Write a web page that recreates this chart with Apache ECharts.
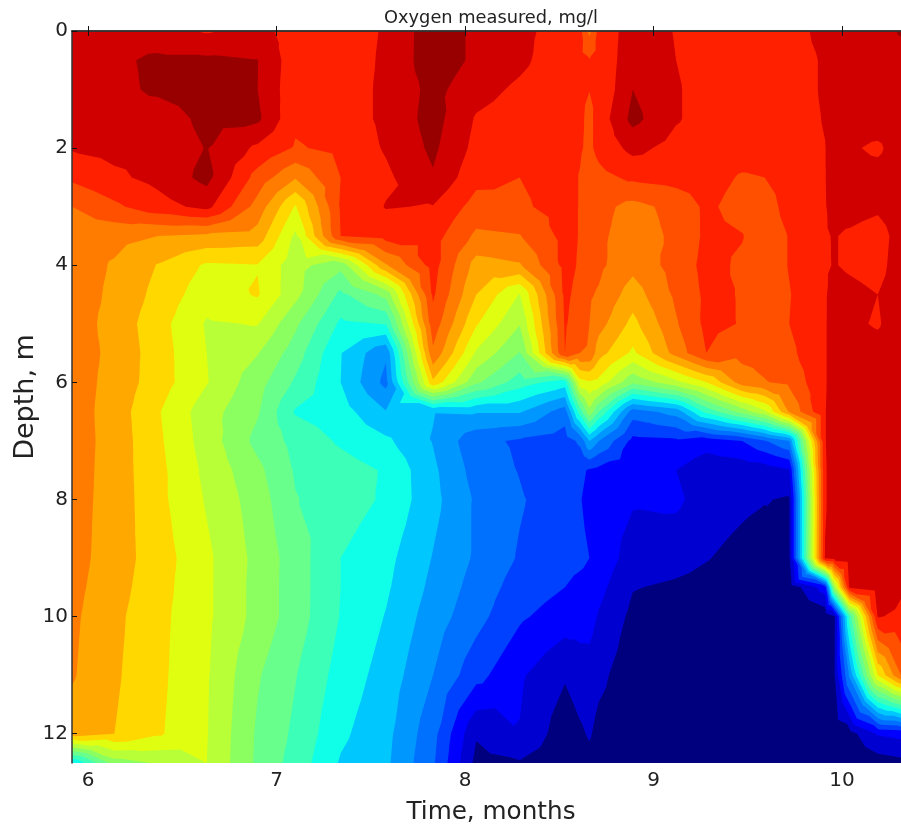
<!DOCTYPE html>
<html><head><meta charset="utf-8">
<style>html,body{margin:0;padding:0;background:#fff}#c{width:901px;height:829px}</style>
<script src="https://cdn.jsdelivr.net/npm/echarts@6/dist/echarts.min.js"></script>
</head><body><div id="c"></div>
<script>
const depths=[0,0.5,1,1.5,2,2.5,3,3.5,4,4.5,5,5.5,6,6.5,7,7.5,8,9,9.5,10,11,12,12.5];
const months=[5.915,6.14,6.37,6.63,6.90,7.10,7.34,7.58,7.83,8.06,8.29,8.53,8.61,8.66,8.71,8.89,9.12,9.28,9.47,9.59,9.72,9.91,9.96,10.04,10.19,10.313];
// contour-level readings per sampling time, one value per depth
const t0=[18.6,18.6,18.6,18.6,18.1,17.2,16.0,15.4,15.5,15.5,15.5,15.5,15.5,15.5,15.5,15.5,15.4,15.4,15.3,15.2,15.1,14.5,6.9];
const t1=[18.6,18.8,18.7,18.6,18.3,17.8,16.8,15.3,14.9,14.8,14.65,14.75,14.65,14.55,14.6,14.55,14.6,14.5,14.4,14.25,14.15,14.0,10.5];
const t2=[18.4,19.2,19.2,18.4,18.3,18.3,17.6,15.0,13.95,13.7,13.4,13.5,13.5,13.1,13.2,13.3,13.3,13.5,13.4,13.3,13.25,13.15,11.1];
const t3=[17.9,19.2,19.5,19.3,19.05,19.3,18.3,14.8,12.85,12.4,11.9,12.0,12.05,11.45,11.55,11.75,11.9,12.2,12.2,12.2,12.1,12.05,12.0];
const t4=[18.4,19.02,19.0,19.2,17.8,16.6,15.6,14.6,12.95,13.1,12.05,11.05,10.4,10.1,9.7,10.25,10.5,10.7,10.65,10.65,10.1,9.85,9.8];
const t5=[17.5,17.4,17.3,17.2,16.9,15.1,12.9,11.8,11.4,11.3,10.2,9.5,8.85,7.9,8.7,8.9,9.05,9.5,9.5,9.5,9.05,8.8,8.6];
const t6=[17.5,17.5,17.5,17.5,17.25,17.0,17.1,17.0,10.3,8.75,7.8,7.05,7.0,7.45,7.85,8.45,8.5,8.0,8.0,7.95,7.6,7.2,6.9];
const t7=[18.1,18.15,18.2,18.2,18.1,17.8,18.05,17.4,14.9,10.3,8.05,5.15,4.7,6.05,7.2,7.9,7.85,7.3,7.15,6.95,6.6,6.3,6.2];
const t8=[19.6,19.6,19.3,19.4,19.2,18.9,17.95,17.4,17.4,17.15,16.6,15.8,13.8,6.05,5.95,6.2,6.3,5.95,5.75,5.5,5.0,4.35,4.15];
const t9=[18.8,18.8,18.4,17.9,17.7,17.3,16.6,15.8,14.6,14.0,13.1,11.85,10.2,6.1,4.3,4.6,4.85,4.85,4.6,4.35,3.35,1.1,0.7];
const t10=[18.3,18.25,17.8,17.5,17.4,17.0,16.85,15.95,14.9,11.95,11.05,9.95,8.5,6.1,3.85,3.95,4.1,3.9,3.55,3.15,2.15,1.95,0.9];
const t11=[17.5,17.3,17.2,17.2,17.3,17.4,17.35,17.3,17.3,17.2,17.1,17.0,7.5,4.5,3.5,3.1,3.4,3.3,3.0,2.5,1.1,0.4,0.4];
const t12=[17.3,17.2,17.1,17.2,17.1,16.95,16.95,16.95,16.9,16.7,16.5,16.0,12.6,8.5,4.2,3.2,3.05,3.2,2.75,2.4,1.5,0.85,0.6];
const t13=[15.8,17.05,17.02,16.75,16.8,16.4,16.3,16.2,16.3,16.1,16.0,15.9,12.9,10.7,6.0,2.9,2.75,3.0,2.7,2.4,1.55,1.1,0.7];
const t14=[17.3,17.3,17.1,17.4,17.3,16.7,16.3,16.2,16.2,15.9,15.4,14.4,12.7,9.0,5.0,2.7,2.6,2.65,2.3,1.9,1.25,0.7,0.6];
const t15=[18.5,18.6,19.0,19.3,18.3,17.2,15.7,15.5,15.3,14.5,13.7,12.8,10.2,4.5,2.7,2.4,2.1,1.55,1.05,0.75,0.4,0.3,0.3];
const t16=[17.95,18.0,18.1,18.1,17.65,17.4,16.3,16.2,16.4,16.2,15.9,15.4,11.7,5.4,2.8,2.0,2.2,1.35,0.85,0.5,0.3,0.3,0.3];
const t17=[17.6,17.6,17.6,17.6,17.5,17.4,17.2,17.2,17.3,17.2,17.25,17.0,13.0,8.3,2.4,1.4,1.5,1.05,0.7,0.3,0.3,0.3,0.3];
const t18=[17.6,17.5,17.5,17.5,17.5,16.9,16.6,17.05,16.85,16.95,16.95,16.3,15.5,10.4,3.0,1.4,1.2,0.7,0.4,0.3,0.3,0.3,0.3];
const t19=[17.6,17.5,17.5,17.5,17.4,17.0,16.5,16.4,16.4,16.4,16.5,16.3,15.95,11.8,3.9,1.5,1.05,0.5,0.3,0.3,0.3,0.3,0.3];
const t20=[17.6,17.6,17.6,17.6,17.6,17.4,17.4,17.05,17.05,16.95,17.0,16.75,16.2,15.1,5.0,1.9,0.9,0.85,0.3,0.1,0.2,0.2,0.2];
const t21=[18.3,18.1,18.1,18.05,17.98,17.97,17.95,17.93,17.9,17.9,17.9,17.9,17.9,17.95,17.95,17.9,17.9,18.05,2.5,0.3,0.2,0.2,0.2];
const t22=[18.5,18.4,18.4,18.4,18.3,18.4,18.3,18.05,18.05,18.4,18.5,18.5,18.5,18.5,18.5,18.5,18.5,18.4,11.0,0.9,0.95,0.3,0.2];
const t23=[18.5,18.5,18.5,18.5,18.15,18.4,18.4,17.85,17.85,18.3,18.2,18.5,18.5,18.5,18.5,18.5,18.5,18.5,18.1,8.5,5.2,0.6,0.3];
const t24=[18.6,18.6,18.7,18.6,17.8,18.45,18.2,17.5,17.6,18.0,17.9,18.4,18.5,18.5,18.5,18.5,18.5,18.6,18.6,18.05,13.0,2.1,0.5];
const t25=[19.1,18.6,18.6,18.6,18.6,18.6,18.6,18.5,18.6,18.6,18.6,18.6,18.6,18.6,18.6,18.6,18.6,18.4,18.1,17.85,16.0,2.3,0.7];
const columns=[t0,t1,t2,t3,t4,t5,t6,t7,t8,t9,t10,t11,t12,t13,t14,t15,t16,t17,t18,t19,t20,t21,t22,t23,t24,t25];
const bandColors=['#00007f','#0000d0','#0000ff','#0040ff','#0070ff','#0098ff','#00c8ff','#10ffe8','#3cffb8','#68ff8c','#8cff60','#b8ff38','#e0ff10','#ffd800','#ffa800','#ff7c00','#ff5000','#ff2000','#d00000','#980000'];
const xTicks=[6,7,8,9,10];
const yTicks=[0,2,4,6,8,10,12];

function clipAbove(poly,level){
  const out=[];
  for(let i=0;i<poly.length;i++){
    const a=poly[i],b=poly[(i+1)%poly.length];
    const ia=a[2]>=level, ib=b[2]>=level;
    if(ia) out.push(a);
    if(ia!==ib){
      const f=(level-a[2])/(b[2]-a[2]);
      out.push([a[0]+(b[0]-a[0])*f,a[1]+(b[1]-a[1])*f,level]);
    }
  }
  return out;
}
// each band paints the whole region at or above its level; higher bands paint over it
function renderBand(params,api){
  const level=api.value(0);
  let d='';
  for(let i=0;i<months.length-1;i++){
    for(let j=0;j<depths.length-1;j++){
      const corner=(a,b)=>{const p=api.coord([months[a],depths[b]]);return [p[0],p[1],columns[a][b]];};
      const c=[corner(i,j),corner(i+1,j),corner(i+1,j+1),corner(i,j+1)];
      const mid=[(c[0][0]+c[2][0])/2,(c[0][1]+c[2][1])/2,(c[0][2]+c[1][2]+c[2][2]+c[3][2])/4];
      for(let s=0;s<4;s++){
        const poly=clipAbove([c[s],c[(s+1)%4],mid],level);
        if(poly.length<3) continue;
        d+='M'+poly.map(p=>p[0].toFixed(2)+' '+p[1].toFixed(2)).join('L')+'Z';
      }
    }
  }
  return {type:'path',silent:true,shape:{pathData:d||'M0 0Z'},style:{fill:bandColors[level]}};
}
const tickStyle={inside:true,length:5,lineStyle:{color:'#111',width:1}};
const lineStyle={lineStyle:{color:'#333',width:1.5}};
const chart=echarts.init(document.getElementById('c'),null,{renderer:'canvas'});
chart.setOption({
  animation:false,
  backgroundColor:'#fff',
  title:{text:'Oxygen measured, mg/l',left:486,top:4,textAlign:'center',
    textStyle:{fontFamily:'DejaVu Sans',fontSize:17.8,fontWeight:'normal',color:'#222'}},
  grid:{left:72,top:31,width:829,height:732,containLabel:false,outerBoundsMode:'none'},
  xAxis:[{type:'value',min:months[0],max:months[months.length-1],position:'bottom',z:10,
      name:'Time, months',nameLocation:'middle',nameGap:37,nameMoveOverlap:false,
      nameTextStyle:{fontFamily:'DejaVu Sans',fontSize:24.7,color:'#222',padding:[0,0,0,9]},
      axisLine:lineStyle,splitLine:{show:false},
      axisTick:Object.assign({customValues:xTicks},tickStyle),
      axisLabel:{customValues:xTicks,margin:8,fontFamily:'DejaVu Sans',fontSize:20,color:'#222',formatter:v=>String(v),hideOverlap:false,showMinLabel:true,showMaxLabel:true}},
    {type:'value',min:months[0],max:months[months.length-1],position:'top',z:10,
      axisLine:lineStyle,splitLine:{show:false},
      axisTick:Object.assign({customValues:xTicks},tickStyle),axisLabel:{show:false}}],
  yAxis:[{type:'value',inverse:true,min:0,max:12.5,position:'left',z:10,
      name:'Depth, m',nameLocation:'middle',nameGap:33,nameRotate:90,nameMoveOverlap:false,
      nameTextStyle:{fontFamily:'DejaVu Sans',fontSize:27,color:'#222'},
      axisLine:lineStyle,splitLine:{show:false},
      axisTick:Object.assign({customValues:yTicks},tickStyle),
      axisLabel:{customValues:yTicks,margin:4,fontFamily:'DejaVu Sans',fontSize:20,color:'#222',formatter:v=>String(v),showMinLabel:true}}],
  series:[{type:'custom',coordinateSystem:'cartesian2d',xAxisIndex:0,yAxisIndex:0,clip:true,silent:true,
    data:bandColors.map((c,k)=>[k]),renderItem:renderBand,z:2}]
});
</script></body></html>
